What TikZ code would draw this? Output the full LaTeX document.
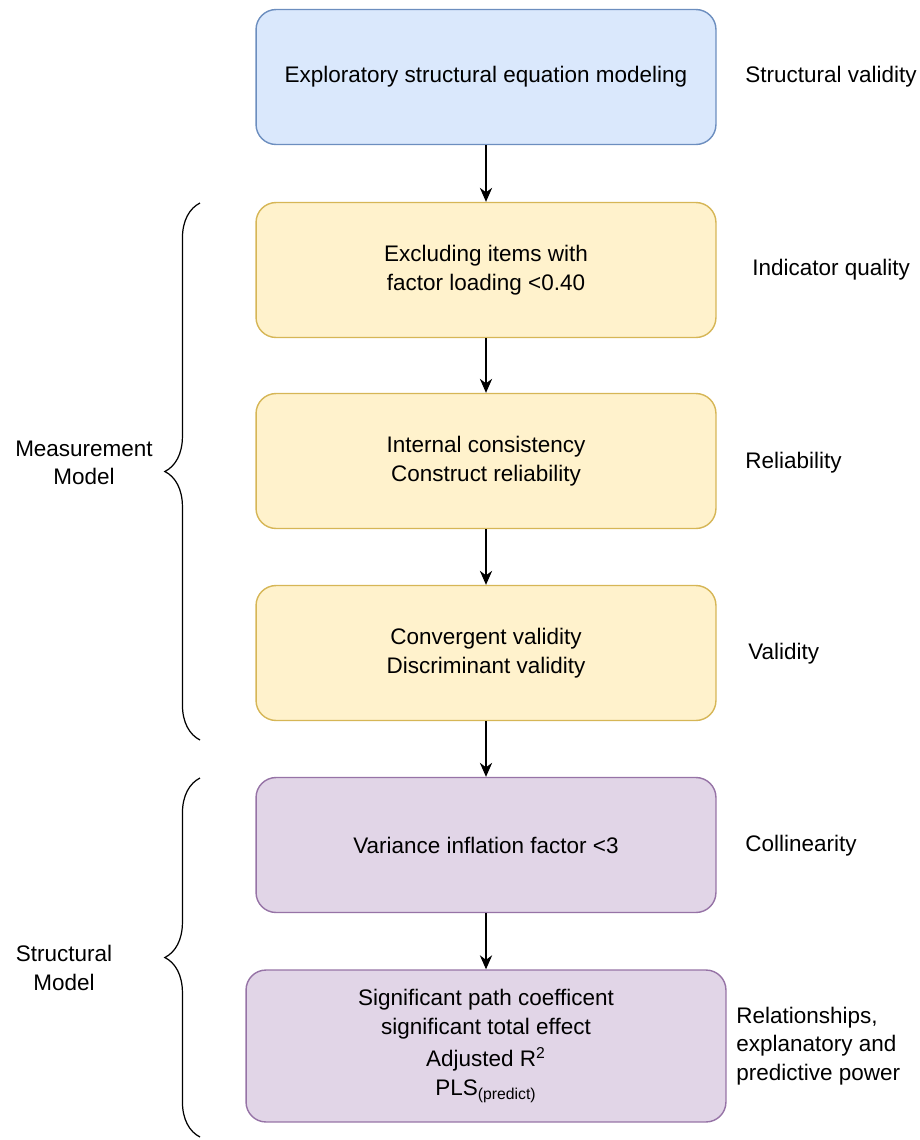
\documentclass[tikz,border=0pt]{standalone}
\usepackage{fontspec}
\setmainfont{Liberation Sans}
\usetikzlibrary{decorations.pathreplacing}
\usetikzlibrary{arrows.meta}

\definecolor{blueFill}{HTML}{DAE8FC}
\definecolor{blueLine}{HTML}{6C8EBF}
\definecolor{yelFill}{HTML}{FFF2CC}
\definecolor{yelLine}{HTML}{D6B656}
\definecolor{purFill}{HTML}{E1D5E7}
\definecolor{purLine}{HTML}{9673A6}

\begin{document}
\begin{tikzpicture}[>={Stealth[length=8pt,width=7pt]},x=0.02cm,y=-0.02cm,
    font=\fontsize{12.8}{16.3}\selectfont,
    box/.style={draw,rounded corners=0.4cm,line width=0.8pt,align=center,
        minimum width=9.2cm,minimum height=2.7cm,inner sep=0pt},
    bluebox/.style={box,fill=blueFill,draw=blueLine},
    yelbox/.style={box,fill=yelFill,draw=yelLine},
    purbox/.style={box,fill=purFill,draw=purLine},
    side/.style={anchor=west,align=left,inner sep=0pt},
    curly/.style={decorate,decoration={brace,amplitude=20pt},line width=0.7pt}]
                        \useasboundingbox (0,0) rectangle (920,1140);
                        \node[bluebox] (esem) at (486,77) {Exploratory structural equation modeling};
                        \node[yelbox] (items) at (486,270) {Excluding items with\\factor loading <0.40};
                        \node[yelbox] (reliab) at (486,461) {Internal consistency\\Construct reliability};
                        \node[yelbox] (valid) at (486,653) {Convergent validity\\Discriminant validity};
                        \node[purbox] (vif) at (486,845) {Variance inflation factor <3};
                        \node[purbox,minimum width=9.6cm,minimum height=3.04cm] (paths) at (486,1046)
                            {Significant path coefficent\\significant total effect\\[2pt]
                             Adjusted R\textsuperscript{2}\\PLS\textsubscript{(predict)}};
                        \draw[->,line width=0.7pt] (esem) -- (items);
                        \draw[->,line width=0.7pt] (items) -- (reliab);
                        \draw[->,line width=0.7pt] (reliab) -- (valid);
                        \draw[->,line width=0.7pt] (valid) -- (vif);
                        \draw[->,line width=0.7pt] (vif) -- (paths);
                        \node[side] (lstruct) at (745,77) {Structural validity};
                        \node[side] (lind) at (752,270) {Indicator quality};
                        \node[side] (lrel) at (745,463) {Reliability};
                        \node[side] (lval) at (748,654) {Validity};
                        \node[side] (lcol) at (745,846) {Collinearity};
                        \node[side] (lpow) at (736,1046) {Relationships,\\explanatory and\\predictive power};
                        \coordinate (mTop) at (200,203);
                        \coordinate (mBot) at (200,740);
                        \coordinate (sTop) at (200,778);
                        \coordinate (sBot) at (200,1137);
                        \draw[curly] (mBot) -- (mTop);
                        \draw[curly] (sBot) -- (sTop);
                        \node[align=center] (measure) at (84,463) {Measurement\\Model};
                        \node[align=center] (structural) at (64,968) {Structural\\Model};
                    \end{tikzpicture}
\end{document}
